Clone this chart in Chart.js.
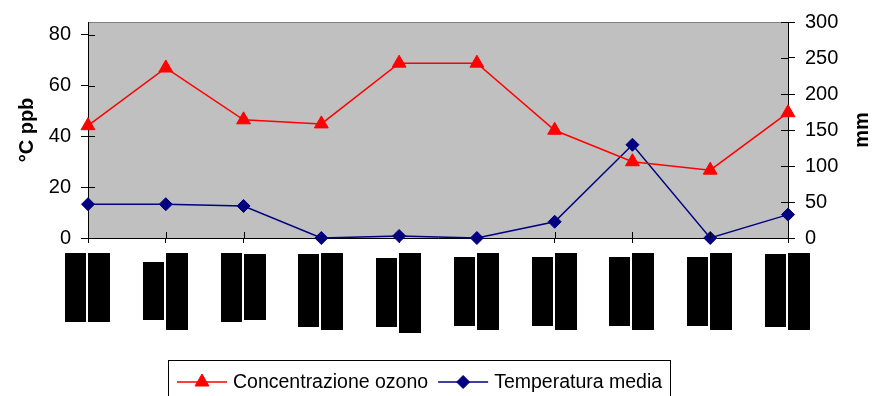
<!DOCTYPE html>
<html>
<head>
<meta charset="utf-8">
<script src="https://cdn.jsdelivr.net/npm/chart.js@4.4.1/dist/chart.umd.min.js"></script>
<style>
  html, body { margin: 0; padding: 0; background: #fff; }
  .chart-wrapper { position: relative; width: 873px; height: 396px; }
</style>
</head>
<body>
<div class="chart-wrapper">
  <canvas id="ozoneChart"></canvas>
</div>
<script>
// category labels are blacked out in the source picture
const categories = ['1', '2', '3', '4', '5', '6', '7', '8', '9', '10'];
const ozoneValues = [44.2, 66.9, 46.5, 44.9, 68.8, 68.8, 42.4, 30.0, 26.7, 49.3];
const temperatureValues = [13.3, 13.3, 12.6, 0.0, 0.8, 0.0, 6.4, 36.7, 0.0, 9.2];
const leftTicks = [0, 20, 40, 60, 80];
const rightTicks = [0, 50, 100, 150, 200, 250, 300];
const seriesNames = ['Concentrazione ozono', 'Temperatura media'];
const leftTitle = '°C ppb';
const rightTitle = 'mm';

// redaction boxes under each category: [left top, left bottom, right top, right bottom]
const labelBoxes = [
  [253, 322, 253, 322],
  [262, 320, 253, 330],
  [253, 322, 254, 320],
  [254, 327, 253, 330],
  [258, 327, 253, 333],
  [257, 326, 253, 330],
  [257, 326, 253, 330],
  [257, 326, 253, 330],
  [257, 326, 253, 330],
  [254, 327, 253, 330],
];

const FONT = '"Liberation Sans", Arial, sans-serif';
const PLOT = { left: 88, right: 788, top: 20, bottom: 238 };

const plotBackground = {
  id: 'plotBackground',
  beforeDraw(chart) {
    const { ctx, chartArea } = chart;
    ctx.save();
    ctx.fillStyle = '#C0C0C0';
    ctx.fillRect(chartArea.left, chartArea.top, chartArea.right - chartArea.left, chartArea.bottom - chartArea.top);
    ctx.strokeStyle = '#808080';
    ctx.lineWidth = 1;
    ctx.beginPath();
    ctx.moveTo(chartArea.left, chartArea.top + 0.5);
    ctx.lineTo(chartArea.right, chartArea.top + 0.5);
    ctx.stroke();
    ctx.restore();
  },
};

const axisExtras = {
  id: 'axisExtras',
  afterDraw(chart) {
    const { ctx, chartArea, scales } = chart;
    ctx.save();

    // tick marks cross the axis lines
    ctx.strokeStyle = '#000';
    ctx.lineWidth = 1;
    ctx.beginPath();
    scales.y.ticks.forEach((t) => {
      const y = Math.round(scales.y.getPixelForValue(t.value)) + 0.5;
      ctx.moveTo(chartArea.left, y);
      ctx.lineTo(chartArea.left + 7, y);
    });
    scales.y2.ticks.forEach((t) => {
      const y = Math.round(scales.y2.getPixelForValue(t.value)) + 0.5;
      ctx.moveTo(chartArea.right, y);
      ctx.lineTo(chartArea.right - 7, y);
    });
    categories.forEach((c, i) => {
      const x = Math.round(scales.x.getPixelForValue(i)) + 0.5;
      ctx.moveTo(x, chartArea.bottom);
      ctx.lineTo(x, chartArea.bottom - 6);
    });
    ctx.stroke();

    // blacked-out category labels
    ctx.fillStyle = '#000';
    categories.forEach((c, i) => {
      const x = Math.round(scales.x.getPixelForValue(i));
      const b = labelBoxes[i];
      ctx.fillRect(x - 23, b[0], 21, b[1] - b[0]);
      ctx.fillRect(x, b[2], 22, b[3] - b[2]);
    });

    // right axis title, reading bottom to top like the left one
    ctx.font = `bold 20px ${FONT}`;
    ctx.textAlign = 'center';
    ctx.textBaseline = 'middle';
    ctx.translate(862, (chartArea.top + chartArea.bottom) / 2);
    ctx.rotate(-Math.PI / 2);
    ctx.fillText(rightTitle, 0, 0);
    ctx.restore();
  },
};

const boxedLegend = {
  id: 'boxedLegend',
  afterDraw(chart) {
    const { ctx } = chart;
    const left = 168;
    const top = 360;
    const right = 670;
    const midY = 382;
    ctx.save();
    ctx.strokeStyle = '#000';
    ctx.lineWidth = 1;
    ctx.strokeRect(left + 0.5, top + 0.5, right - left, 60);

    ctx.font = `19.5px ${FONT}`;
    ctx.textBaseline = 'middle';
    ctx.textAlign = 'left';
    let x = left + 9;
    chart.data.datasets.forEach((ds) => {
      ctx.strokeStyle = ds.borderColor;
      ctx.lineWidth = ds.borderWidth;
      ctx.beginPath();
      ctx.moveTo(x, midY);
      ctx.lineTo(x + 50, midY);
      ctx.stroke();
      ctx.fillStyle = ds.pointBackgroundColor;
      ctx.lineWidth = 1;
      Chart.helpers.drawPoint(ctx, {
        pointStyle: ds.pointStyle,
        radius: ds.pointRadius,
        borderWidth: 1,
        rotation: 0,
      }, x + 25, midY);
      ctx.fillStyle = '#000';
      ctx.fillText(ds.label, x + 56, midY + 1);
      x += 56 + ctx.measureText(ds.label).width + 10;
    });
    ctx.restore();
  },
};

const ctx = document.getElementById('ozoneChart').getContext('2d');

const data = {
  labels: categories,
  datasets: [
    {
      label: seriesNames[0],
      data: ozoneValues,
      yAxisID: 'y',
      borderColor: '#FF0000',
      backgroundColor: '#FF0000',
      borderWidth: 1.5,
      pointStyle: 'triangle',
      pointRadius: 8,
      pointBorderWidth: 1,
      pointBorderColor: '#FF0000',
      pointBackgroundColor: '#FF0000',
      tension: 0,
    },
    {
      label: seriesNames[1],
      data: temperatureValues,
      yAxisID: 'y',
      borderColor: '#000080',
      backgroundColor: '#000080',
      borderWidth: 1.5,
      pointStyle: 'rectRot',
      pointRadius: 6.5,
      pointBorderWidth: 1,
      pointBorderColor: '#000080',
      pointBackgroundColor: '#000080',
      tension: 0,
    },
  ],
};

const tickFont = { family: FONT, size: 20 };

const chart = new Chart(ctx, {
  type: 'line',
  data,
  options: {
    responsive: true,
    maintainAspectRatio: false,
    animation: false,
    clip: false,
    layout: { padding: { top: PLOT.top, left: 0, right: 0, bottom: 0 } },
    plugins: {
      legend: { display: false },
      tooltip: { enabled: false },
    },
    scales: {
      x: {
        type: 'category',
        offset: false,
        ticks: { display: false },
        grid: {
          drawOnChartArea: false,
          drawTicks: true,
          tickLength: 5,
          color: '#000',
        },
        border: { color: '#000', width: 1 },
        afterFit(scale) { scale.height = 396 - PLOT.bottom; },
      },
      y: {
        position: 'left',
        min: 0,
        max: 85,
        afterBuildTicks(scale) { scale.ticks = leftTicks.map((v) => ({ value: v })); },
        ticks: { color: '#000', font: tickFont, padding: 10 },
        grid: { drawOnChartArea: false, tickLength: 7, color: '#000' },
        border: { color: '#000', width: 1 },
        title: {
          display: true,
          text: leftTitle,
          color: '#000',
          font: { family: FONT, size: 20, weight: 'bold' },
          padding: { top: 15, bottom: 0 },
        },
        afterFit(scale) { scale.width = PLOT.left; },
      },
      y2: {
        position: 'right',
        min: 0,
        max: 300,
        afterBuildTicks(scale) { scale.ticks = rightTicks.map((v) => ({ value: v })); },
        ticks: { color: '#000', font: tickFont, padding: 10 },
        grid: { drawOnChartArea: false, tickLength: 7, color: '#000' },
        border: { color: '#000', width: 1 },
        afterFit(scale) { scale.width = 873 - PLOT.right; },
      },
    },
  },
  plugins: [plotBackground, axisExtras, boxedLegend],
});
</script>
</body>
</html>
